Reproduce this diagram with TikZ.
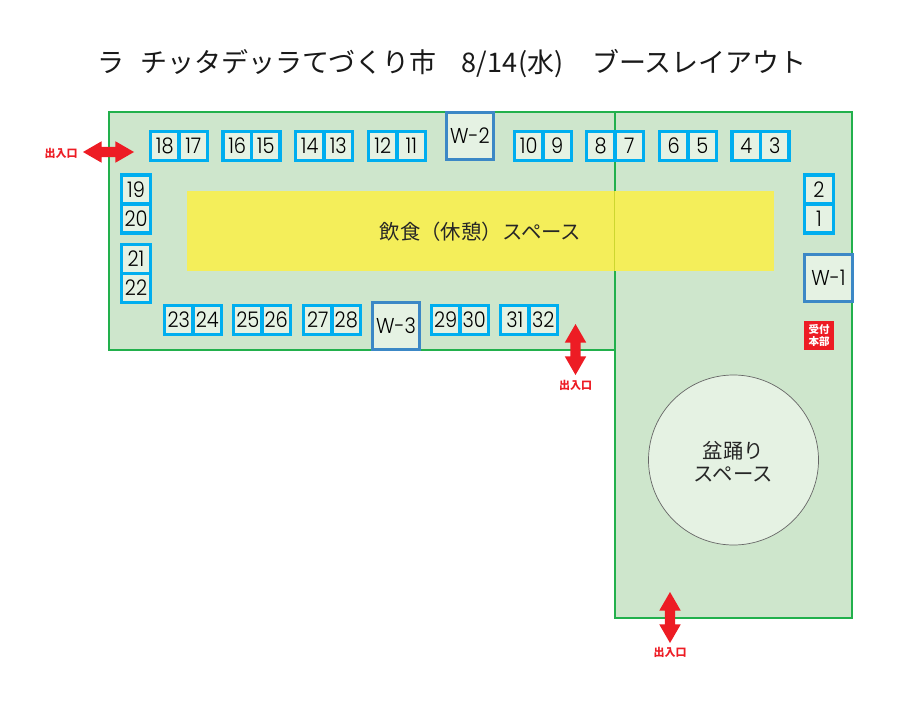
\documentclass[tikz,border=0pt]{standalone}
\usepackage{fontspec}
\setmainfont{Poppins Light}[FakeStretch=0.9]
\newfontfamily\cjk{Noto Sans CJK JP}
\usetikzlibrary{shapes.arrows}
\definecolor{areagreen}{HTML}{CEE6CC}
\definecolor{arealine}{HTML}{22B04C}
\definecolor{boothblue}{HTML}{00AEEF}
\definecolor{wideblue}{HTML}{3C88C6}
\definecolor{boothfill}{HTML}{E5F2E3}
\definecolor{restyellow}{HTML}{F4EE5A}
\definecolor{overlapline}{HTML}{CDD62F}
\definecolor{exitred}{HTML}{ED1C24}
\tikzstyle{area}=[rectangle,draw=arealine,fill=areagreen,line width=1.5pt,inner sep=0pt]
\tikzstyle{booth}=[rectangle,draw=boothblue,fill=boothfill,line width=3.4pt,minimum width=28.5pt,minimum height=29pt,inner sep=0pt,text=black,font=\fontsize{21.5}{21.5}\selectfont]
\tikzstyle{wide}=[rectangle,draw=wideblue,fill=boothfill,line width=3.4pt,minimum size=47.5pt,inner sep=0pt,text=black,font=\fontsize{21.5}{21.5}\selectfont]
\tikzstyle{exitv}=[double arrow,shape border rotate=90,fill=exitred,minimum height=51pt,minimum width=21pt,double arrow head extend=5.5pt,double arrow tip angle=60,inner sep=5pt]
\tikzstyle{exith}=[double arrow,fill=exitred,minimum height=51pt,minimum width=21pt,double arrow head extend=5.5pt,double arrow tip angle=60,inner sep=5pt]
\tikzstyle{exitlabel}=[text=exitred,font=\cjk\bfseries\fontsize{11}{11}\selectfont,inner sep=0pt]
\tikzset{areatext/.style={align=center,text=black!85,inner sep=0pt,font=\cjk\fontsize{20.4}{23.5}\selectfont}}
\begin{document}
\begin{tikzpicture}[x=1pt,y=-1pt]
  \useasboundingbox (0,0) rectangle (912,722);

  % areas
  \node[area,minimum width=506pt,minimum height=238pt] (hall) at (362,231) {};
  \node[area,minimum width=237pt,minimum height=506pt] (court) at (733.5,365) {};
  \node[fill=restyellow,minimum width=587pt,minimum height=79.5pt,inner sep=0pt] (rest) at (480.5,231) {};
  \node[circle,draw=black!60,fill=boothfill,line width=0.7pt,minimum size=170pt,inner sep=0pt] (dance) at (733.5,460) {};

  \coordinate (overtop) at (rest.north -| court.west);
  \coordinate (overbot) at (rest.south -| court.west);
  \draw[overlapline,line width=1.5pt] (overtop) -- (overbot);

  \node[areatext] (resttext) at (480.5,232) {飲食（休憩）スペース};
  \node[areatext] (dancetext) at (733.5,461.5) {盆踊り\\スペース};

  % top row
  \foreach \x/\name in {164.75/18, 193.25/17, 237.25/16, 265.75/15, 309.75/14, 338.25/13, 382.75/12, 411.25/11, 528.75/10, 557.25/9, 600.75/8, 629.25/7, 673.75/6, 702.25/5, 746.25/4, 774.75/3}
     \node[booth] (b\name) at (\x, 146) {\name};

  % bottom row
  \foreach \x/\name in {178.75/23, 207.25/24, 247.75/25, 276.25/26, 317.75/27, 346.25/28, 445.75/29, 474.25/30, 514.75/31, 543.25/32}
     \node[booth] (b\name) at (\x, 320) {\name};

  % side columns
  \foreach \x/\y/\name in {136/189.5/19, 136/218.5/20, 136/259/21, 136/288/22, 819/189.5/2, 819/218.5/1}
     \node[booth] (b\name) at (\x, \y) {\name};

  % wide booths
  \foreach \x/\y/\name in {828.5/278/1, 470/136/2, 396/326/3}
     \node[wide] (w\name) at (\x, \y) {W-\name};

  \node[fill=exitred,text=white,minimum width=30pt,minimum height=29pt,inner sep=0pt,align=center,font=\cjk\bfseries\fontsize{10.5}{12}\selectfont] (office) at (819,335.5) {受付\\本部};

  % exits
  \node[exith] (exita) at (108.5,152) {};
  \node[exitv] (exitb) at (575.5,349.5) {};
  \node[exitv] (exitc) at (670,617.5) {};
  \node[exitlabel] (labela) at (61,153) {出入口};
  \node[exitlabel] (labelb) at (575.5,385.5) {出入口};
  \node[exitlabel] (labelc) at (670,652.5) {出入口};

  \node[text=black!90,inner sep=0pt,font=\cjk\fontsize{27}{27}\selectfont] (title) at (452,64) {ラ\hspace{16pt}チッタデッラてづくり市\hspace{25pt}8/14\hspace{1pt}(水)\hspace{29pt}ブースレイアウト};
\end{tikzpicture}
\end{document}
